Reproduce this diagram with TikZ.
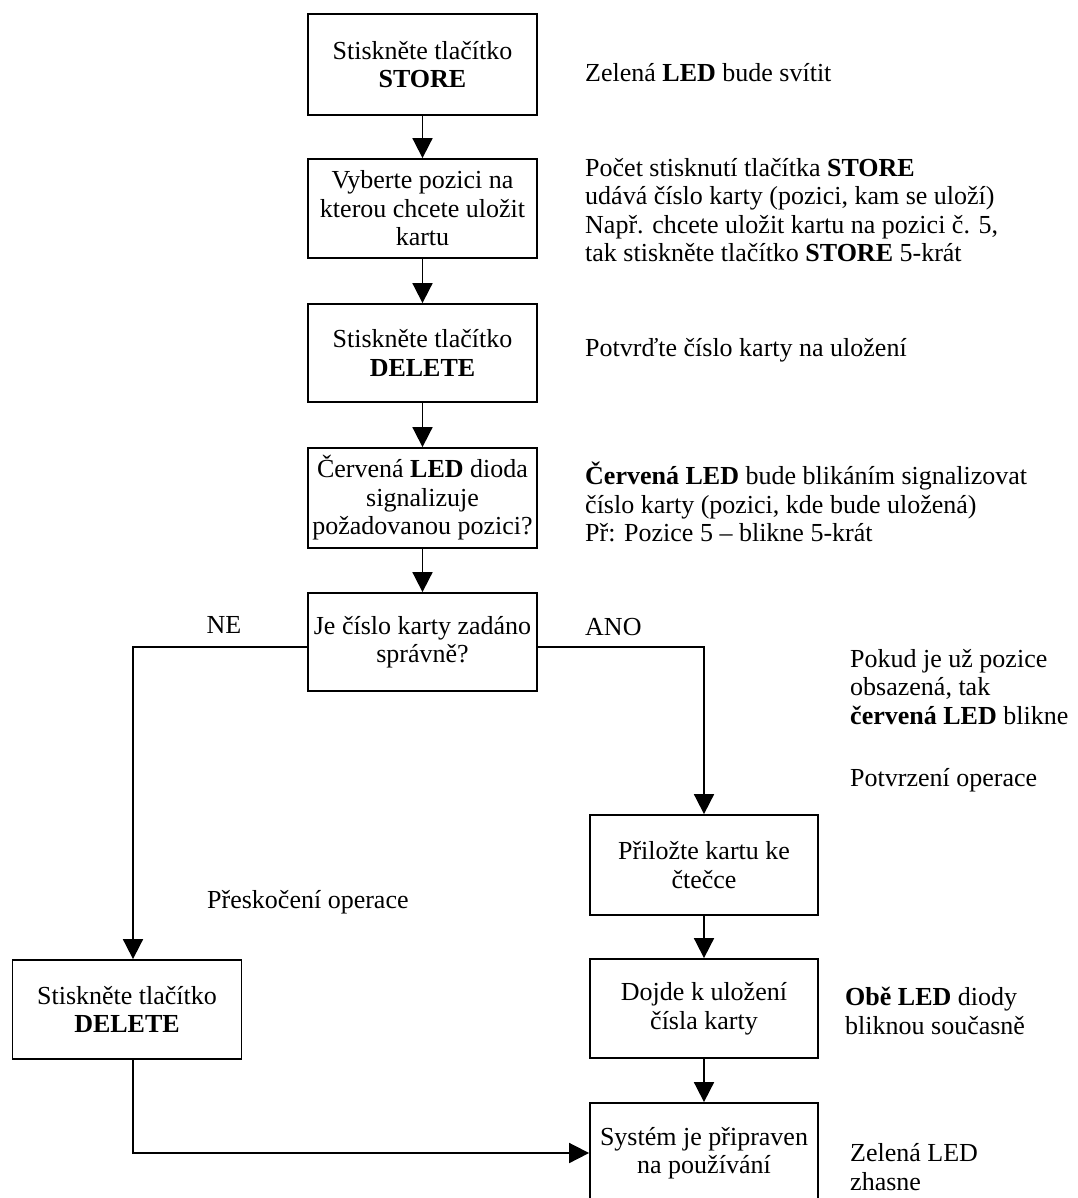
\documentclass[tikz,border=0pt]{standalone}
\usepackage{fontspec}
\setmainfont{Liberation Serif}
\usetikzlibrary{arrows.meta}
\tikzset{
  box/.style={draw, line width=1.8pt, rectangle, minimum width=229pt, inner sep=0pt, align=center,
              font=\fontsize{26}{28.5}\selectfont},
  note/.style={anchor=west, inner sep=0pt, align=left, font=\fontsize{26}{28.5}\selectfont},
  lbl/.style={inner sep=0pt, font=\fontsize{26}{28.5}\selectfont},
  arr/.style={line width=1.8pt, -{Triangle[length=20pt,width=20pt]}},
  ln/.style={line width=1.8pt}
}
\begin{document}
\begin{tikzpicture}[x=1pt,y=-1pt]
\useasboundingbox (0,0) rectangle (1077,1198);
% main column
\node[box, minimum height=101pt] (b1) at (422.5,64.5) {Stiskněte tlačítko\\\textbf{STORE}};
\node[box, minimum height=99pt] (b2) at (422.5,208.5) {Vyberte pozici na\\kterou chcete uložit\\kartu};
\node[box, minimum height=98pt] (b3) at (422.5,353) {Stiskněte tlačítko\\\textbf{DELETE}};
\node[box, minimum height=100pt] (b4) at (422.5,498) {Červená \textbf{LED} dioda\\signalizuje\\požadovanou pozici?};
\node[box, minimum height=98pt] (b5) at (422.5,642) {Je číslo karty zadáno\\správně?};
% left branch
\node[box, minimum height=99pt] (del) at (127,1009.5) {Stiskněte tlačítko\\\textbf{DELETE}};
% right branch
\node[box, minimum width=228pt, minimum height=100pt] (pril) at (704,865) {Přiložte kartu ke\\čtečce};
\node[box, minimum width=228pt, minimum height=99pt] (doj) at (704,1008.5) {Dojde k uložení\\čísla karty};
\node[box, minimum width=228pt, minimum height=100pt] (sys) at (704,1153) {Systém je připraven\\na používání};
% junction coordinates
\coordinate (nej) at (133,647);
\coordinate (anoj) at (704,647);
% connectors
\draw[arr] (b1) -- (b2);
\draw[arr] (b2) -- (b3);
\draw[arr] (b3) -- (b4);
\draw[arr] (b4) -- (b5);
\draw[arr] (b5.west |- nej) -| (del.north -| nej);
\draw[arr] (b5.east |- anoj) -| (pril.north);
\draw[arr] (pril) -- (doj);
\draw[arr] (doj) -- (sys);
\draw[arr] (del.south -| nej) |- (sys.west);
% branch labels
\node[lbl] (ne) at (224,625) {NE};
\node[lbl, anchor=west] (ano) at (585,627) {ANO};
\node[lbl, anchor=west] (skip) at (207,902) {Přeskočení operace};
% notes
\node[note] (n1) at (585,73) {Zelená \textbf{LED} bude svítit};
\node[note] (n2) at (585,210) {Počet stisknutí tlačítka \textbf{STORE}\\udává číslo karty (pozici, kam se uloží)\\Např. chcete uložit kartu na pozici č. 5,\\tak stiskněte tlačítko \textbf{STORE} 5-krát};
\node[note] (n3) at (585,350) {Potvrďte číslo karty na uložení};
\node[note] (n4) at (585,502) {\textbf{Červená LED} bude blikáním signalizovat\\číslo karty (pozici, kde bude uložená)\\Př: Pozice 5 – blikne 5-krát};
\node[note] (n5) at (850,687) {Pokud je už pozice\\obsazená, tak\\\textbf{červená LED} blikne};
\node[note] (n6) at (850,780) {Potvrzení operace};
\node[note] (n7) at (845,1011) {\textbf{Obě LED} diody\\bliknou současně};
\node[note] (n8) at (850,1167) {Zelená LED\\zhasne};
\end{tikzpicture}
\end{document}
